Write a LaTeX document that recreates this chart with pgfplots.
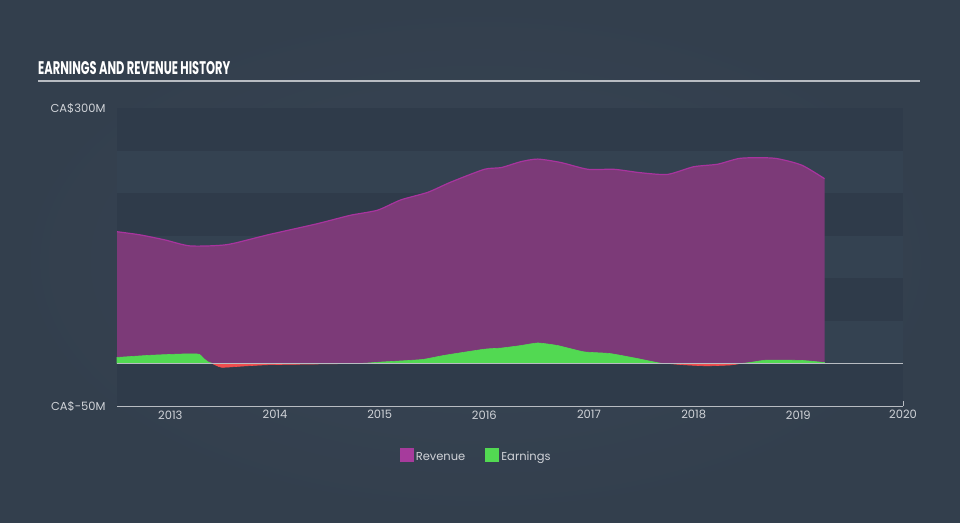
\documentclass[border=0pt]{standalone}
\usepackage{pgfplots}
\pgfplotsset{compat=1.18}
\usepackage{graphicx}
\usepackage{fontspec}
\setmainfont{Poppins}
\definecolor{pagebg}{HTML}{333F4D}
\definecolor{pagecenter}{HTML}{384555}
\definecolor{banddark}{HTML}{2F3B4A}
\definecolor{bandlight}{HTML}{344251}
\definecolor{revfill}{HTML}{7C3A78}
\definecolor{revline}{HTML}{A8349E}
\definecolor{revleg}{HTML}{A63B9C}
\definecolor{earn}{HTML}{52D952}
\definecolor{loss}{HTML}{F04E4E}
\definecolor{ticktext}{HTML}{D0D3D8}
\definecolor{axline}{HTML}{B8BCC2}
\begin{document}
\begin{tikzpicture}[x=1pt,y=1pt]
\useasboundingbox (0,0) rectangle (960,522);
\shade[inner color=pagecenter, outer color=pagebg] (0,0) rectangle (960,522);
\node[anchor=base west, inner sep=0pt, text=white] at (38,447)
  {\resizebox{192pt}{13pt}{\bfseries EARNINGS AND REVENUE HISTORY}};
\draw[axline, line width=1.3pt] (38,441) -- (920,441);
\begin{axis}[
  at={(117pt,116pt)}, anchor=south west,
  scale only axis, width=786pt, height=298pt,
  xmin=2012.49, xmax=2020, ymin=-50, ymax=300,
  axis line style={draw=none},
  axis x line*=bottom, axis y line*=left,
  xtick={2013,2014,2015,2016,2017,2018,2019,2020},
  xticklabels={2013,2014,2015,2016,2017,2018,2019,2020},
  ytick={-50,300}, yticklabels={CA\$-50M,CA\$300M},
  y tick label style={anchor=east, xshift=-8pt},
  x tick label style={yshift=-1pt},
  tick label style={font=\fontsize{11.5}{12}\selectfont, text=ticktext},
  major tick length=5pt,
  xtick style={draw=axline, line width=0.8pt},
  ytick style={draw=none},
  /pgf/number format/assume math mode=true,
  legend style={at={(0.457,-0.168)}, anchor=center, draw=none, fill=none,
    text=ticktext, font=\fontsize{11.5}{12}\selectfont,
    legend columns=2, /tikz/every even column/.append style={column sep=18pt}},
  legend image code/.code={\fill[#1] (0pt,-5pt) rectangle (14pt,9pt);},
  clip=false,
]
% bands
\fill[banddark]  (axis cs:2012.49,-50) rectangle (axis cs:2020,0);
\fill[bandlight] (axis cs:2012.49,0)   rectangle (axis cs:2020,50);
\fill[banddark]  (axis cs:2012.49,50)  rectangle (axis cs:2020,100);
\fill[bandlight] (axis cs:2012.49,100) rectangle (axis cs:2020,150);
\fill[banddark]  (axis cs:2012.49,150) rectangle (axis cs:2020,200);
\fill[bandlight] (axis cs:2012.49,200) rectangle (axis cs:2020,250);
\fill[banddark]  (axis cs:2012.49,250) rectangle (axis cs:2020,300);

% revenue
\addplot[forget plot, fill=revfill, draw=none, smooth, tension=0.4] coordinates {
(2012.49,154.7)(2012.71,151)(2012.95,145)(2013.19,138)(2013.54,139.5)(2013.93,151)
(2014.40,164)(2014.72,174)(2014.98,180)(2015.20,192)(2015.46,201)(2015.68,213)
(2016.00,228)(2016.16,230)(2016.35,237)(2016.51,240)(2016.73,236)(2016.99,228)
(2017.24,228)(2017.49,224)(2017.75,222)(2018.00,231)(2018.23,234)(2018.45,241)
(2018.77,241)(2019.03,233)(2019.25,217)} \closedcycle;
\addplot[forget plot, draw=revline, line width=1.2pt, smooth, tension=0.4] coordinates {
(2012.49,154.7)(2012.71,151)(2012.95,145)(2013.19,138)(2013.54,139.5)(2013.93,151)
(2014.40,164)(2014.72,174)(2014.98,180)(2015.20,192)(2015.46,201)(2015.68,213)
(2016.00,228)(2016.16,230)(2016.35,237)(2016.51,240)(2016.73,236)(2016.99,228)
(2017.24,228)(2017.49,224)(2017.75,222)(2018.00,231)(2018.23,234)(2018.45,241)
(2018.77,241)(2019.03,233)(2019.25,217)};

% earnings (positive part)
\addplot[forget plot, fill=earn, draw=earn, line width=0.6pt, smooth, tension=0.3] coordinates {
(2012.49,7)(2012.80,9.5)(2013.05,10.8)(2013.21,11.3)(2013.28,10.5)(2013.40,0)
(2014.00,0)(2014.80,0)(2015.00,1.5)(2015.40,4.5)(2015.62,9.5)(2016.00,16.7)
(2016.16,18)(2016.35,21)(2016.51,24)(2016.70,21)(2016.95,13.6)(2017.20,11.6)
(2017.45,6)(2017.67,0.5)(2017.75,0)(2018.45,0)(2018.69,3.8)(2019.03,3.5)(2019.25,1)} \closedcycle;
% earnings (negative part)
\addplot[forget plot, fill=loss, draw=loss, line width=0.6pt, smooth, tension=0.3] coordinates {
(2013.40,0)(2013.49,-4.5)(2013.70,-3)(2013.93,-1.5)(2014.30,-0.8)(2014.80,0)} \closedcycle;
\addplot[forget plot, fill=loss, draw=loss, line width=0.6pt, smooth, tension=0.3] coordinates {
(2017.75,0)(2017.90,-1.5)(2018.12,-2.8)(2018.35,-1.8)(2018.45,0)} \closedcycle;

% zero line and bottom axis line
\draw[axline, line width=1.3pt] (axis cs:2012.49,0) -- (axis cs:2020,0);
\draw[axline, line width=0.9pt] (axis cs:2012.49,-50) -- (axis cs:2020,-50);

\addlegendimage{fill=revleg, draw=none}
\addlegendentry{Revenue}
\addlegendimage{fill=earn, draw=none}
\addlegendentry{Earnings}
\end{axis}
\end{tikzpicture}
\end{document}
